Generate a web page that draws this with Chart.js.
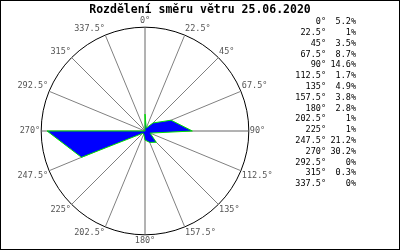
<!DOCTYPE html>
<html>
<head>
<meta charset="utf-8">
<script src="https://cdn.jsdelivr.net/npm/chart.js@4"></script>
<style>
  html, body { margin: 0; padding: 0; background: #fff; }
  #wrap { width: 398px; height: 248px; border: 1px solid #000; }
</style>
</head>
<body>
<div id="wrap"><canvas id="rose" width="398" height="248"></canvas></div>
<script>
// Wind direction distribution (percent of time per sector)
const directions = ['0°', '22.5°', '45°', '67.5°', '90°', '112.5°', '135°', '157.5°',
    '180°', '202.5°', '225°', '247.5°', '270°', '292.5°', '315°', '337.5°'];
const shares = [5.2, 1, 3.5, 8.7, 14.6, 1.7, 4.9, 3.8, 2.8, 1, 1, 21.2, 30.2, 0, 0.3, 0];
const titleText = 'Rozdělení směru větru 25.06.2020';

const MONO = '"DejaVu Sans Mono", "Liberation Mono", monospace';

// title centred on the whole image + share table on the right side
const textPlugin = {
    id: 'roseText',
    afterDraw(chart) {
        const ctx = chart.ctx;
        ctx.save();
        ctx.fillStyle = '#000';
        ctx.textBaseline = 'middle';
        ctx.textAlign = 'center';
        ctx.font = 'bold 11.5px ' + MONO;
        ctx.fillText(titleText, 199, 9);

        ctx.font = '8.5px ' + MONO;
        ctx.textAlign = 'right';
        directions.forEach((d, i) => {
            const y = 21 + i * 10.8;
            ctx.fillText(d, 325, y);
            ctx.fillText(shares[i] + '%', 355, y);
        });
        ctx.restore();
    }
};

new Chart(document.getElementById('rose'), {
    type: 'radar',
    data: {
        labels: directions,
        datasets: [{
            data: shares,
            backgroundColor: '#0000ff',
            borderColor: '#00e000',
            borderWidth: 1,
            pointRadius: 0,
            tension: 0,
            fill: true,
        }],
    },
    options: {
        responsive: false,
        animation: false,
        layout: { padding: { left: 2, right: 112, top: 15, bottom: 2 } },
        plugins: {
            legend: { display: false },
            tooltip: { enabled: false },
            title: { display: false },
        },
        scales: {
            r: {
                min: 0,
                max: 32,
                ticks: { display: false, stepSize: 32 },
                grid: { circular: true, color: '#000', lineWidth: 1 },
                angleLines: {
                    color: (c) => (c.index % 4 === 0 ? '#666' : '#808080'),
                    lineWidth: 1,
                },
                pointLabels: {
                    display: true,
                    color: '#555',
                    font: { family: MONO, size: 8.5 },
                    padding: 1,
                },
            },
        },
    },
    plugins: [textPlugin],
});
</script>
</body>
</html>
